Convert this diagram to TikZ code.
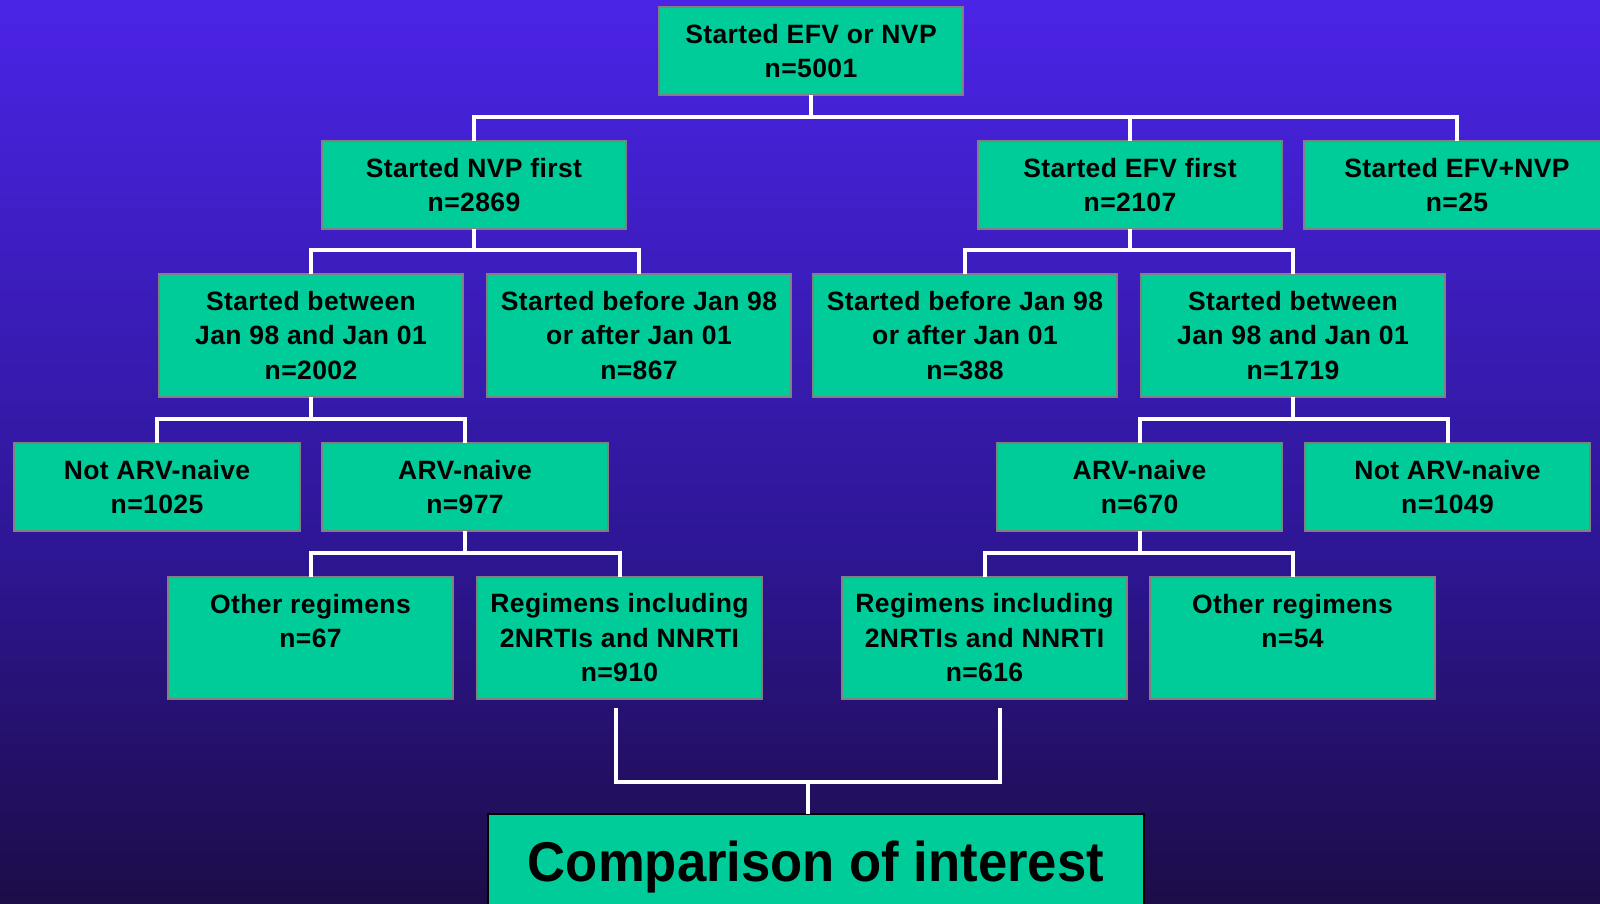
\documentclass[tikz,border=0pt]{standalone}
\usepackage{fontspec}
\usepackage{graphicx}
\newfontfamily\boxfont{Liberation Sans}[LetterSpace=1.5]
\newfontfamily\bigfont{Liberation Sans}
\definecolor{bgtop}{RGB}{75,36,230}
\definecolor{bgmid}{RGB}{46,22,150}
\definecolor{bgbot}{RGB}{29,12,72}
\definecolor{boxfill}{RGB}{0,204,153}
\definecolor{boxline}{RGB}{128,128,128}
\pgfdeclareverticalshading{bgshade}{100bp}{color(0bp)=(bgbot); color(25bp)=(bgbot); color(45bp)=(bgmid); color(75bp)=(bgtop); color(100bp)=(bgtop)}
\tikzset{
  box/.style={draw=boxline, line width=2pt, fill=boxfill, anchor=north west, align=center,
    inner sep=0pt, outer sep=0pt, text=black, font=\boxfont\bfseries\fontsize{26.5pt}{34.5pt}\selectfont},
  wide/.style={minimum width=304pt},
  narrow/.style={minimum width=285pt},
  two/.style={minimum height=88pt},
  three/.style={minimum height=123pt},
  conn/.style={draw=white, line width=4pt},
}
\begin{document}
\begin{tikzpicture}[x=1pt,y=-1pt]
\useasboundingbox (0,0) rectangle (1600,904);
\shade[shading=bgshade] (0,0) rectangle (1600,904);

% level 0
\node[box, wide, two] (top) at (659,7) {Started EFV or NVP\\n=5001};
% level 1
\node[box, wide, two] (nvp) at (322,141) {Started NVP first\\n=2869};
\node[box, wide, two] (efv) at (978,141) {Started EFV first\\n=2107};
\node[box, minimum width=306pt, two] (both) at (1304,141) {Started EFV+NVP\\n=25};
% level 2
\node[box, wide, three] (b2002) at (159,274) {Started between\\Jan 98 and Jan 01\\n=2002};
\node[box, wide, three] (b867) at (487,274) {Started before Jan 98\\or after Jan 01\\n=867};
\node[box, wide, three] (b388) at (813,274) {Started before Jan 98\\or after Jan 01\\n=388};
\node[box, wide, three] (b1719) at (1141,274) {Started between\\Jan 98 and Jan 01\\n=1719};
% level 3
\node[box, minimum width=286pt, two] (n1025) at (14,443) {Not ARV-naive\\n=1025};
\node[box, minimum width=286pt, two] (a977) at (322,443) {ARV-naive\\n=977};
\node[box, narrow, two] (a670) at (997,443) {ARV-naive\\n=670};
\node[box, narrow, two] (n1049) at (1305,443) {Not ARV-naive\\n=1049};
% level 4
\node[box, narrow, minimum height=122pt] (o67) at (168,577) {Other regimens\\n=67\\~};
\node[box, narrow, minimum height=122pt] (r910) at (477,577) {Regimens including\\2NRTIs and NNRTI\\n=910};
\node[box, narrow, minimum height=122pt] (r616) at (842,577) {Regimens including\\2NRTIs and NNRTI\\n=616};
\node[box, narrow, minimum height=122pt] (o54) at (1150,577) {Other regimens\\n=54\\~};
% final
\node[box, draw=black, minimum width=656pt, minimum height=107pt, font=\bigfont\bfseries\fontsize{56pt}{64pt}\selectfont] (comp) at (488,814) {\scalebox{0.94}[1]{Comparison of interest}};

% junction levels
\coordinate (y1) at (0,117);
\coordinate (y2) at (0,250);
\coordinate (y3) at (0,419);
\coordinate (y4) at (0,553);
\coordinate (c1) at (616,708);
\coordinate (c2) at (1000,708);
\coordinate (c3) at (808,782);

\draw[conn] (top.south) -- (top.south |- y1);
\draw[conn] (nvp.north) |- (top.south |- y1) -| (both.north);
\draw[conn] (efv.north) -- (efv.north |- y1);

\draw[conn] (nvp.south) -- (nvp.south |- y2);
\draw[conn] (b2002.north) |- (nvp.south |- y2) -| (b867.north);
\draw[conn] (efv.south) -- (efv.south |- y2);
\draw[conn] (b388.north) |- (efv.south |- y2) -| (b1719.north);

\draw[conn] (b2002.south) -- (b2002.south |- y3);
\draw[conn] (n1025.north) |- (b2002.south |- y3) -| (a977.north);
\draw[conn] (b1719.south) -- (b1719.south |- y3);
\draw[conn] (a670.north) |- (b1719.south |- y3) -| (n1049.north);

\draw[conn] (a977.south) -- (a977.south |- y4);
\draw[conn] (o67.north) |- (a977.south |- y4) -| (r910.north);
\draw[conn] (a670.south) -- (a670.south |- y4);
\draw[conn] (r616.north) |- (a670.south |- y4) -| (o54.north);

\draw[conn] (c1) |- (c3) -| (c2);
\draw[conn] (c3) -- (c3 |- comp.north);
\end{tikzpicture}
\end{document}
